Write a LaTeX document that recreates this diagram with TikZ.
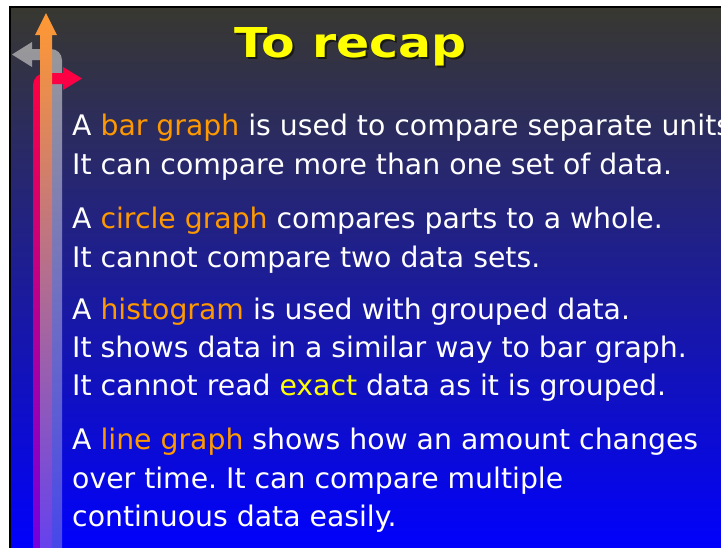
\documentclass[tikz,border=0pt]{standalone}
\usepackage{fontspec}
\setmainfont{DejaVu Sans}
\usepackage{graphicx}
\frenchspacing

% slide background
\definecolor{bgtop}{RGB}{56,56,48}
\definecolor{bgmid}{RGB}{40,40,152}
\definecolor{bgbot}{RGB}{0,0,255}
% decorative arrows
\definecolor{ortop}{RGB}{255,153,51}
\definecolor{ormid}{RGB}{200,112,144}
\definecolor{orbot}{RGB}{100,64,240}
\definecolor{rdtop}{RGB}{255,0,64}
\definecolor{rdmid}{RGB}{204,0,170}
\definecolor{rdbot}{RGB}{112,0,224}
\definecolor{grtop}{RGB}{153,153,153}
\definecolor{grmid}{RGB}{118,118,184}
\definecolor{grbot}{RGB}{70,70,235}
% text
\definecolor{kworange}{RGB}{255,153,0}
\definecolor{kwyellow}{RGB}{255,255,0}
\definecolor{shadowc}{RGB}{25,25,20}

\newcommand\kw[1]{\textcolor{kworange}{#1}}
\newcommand\kwy[1]{\textcolor{kwyellow}{#1}}
\newcommand\titleword{\resizebox{232pt}{30pt}{\bfseries To recap}}

\begin{document}
\begin{tikzpicture}[x=1pt,y=-1pt,
  line/.style={anchor=base west, inner sep=0pt, text=white,
               font=\fontsize{28.3}{34}\selectfont},
  titletext/.style={anchor=base, inner sep=0pt}]
\useasboundingbox (0,0) rectangle (721,547);
\fill[white] (-5,-5) rectangle (730,555);
\begin{scope}
\clip (10,7) rectangle (730,555);
\shade[top color=bgtop, middle color=bgmid, bottom color=bgbot]
  (10,7) rectangle (730,555);

% grey arrow turning left
\shade[top color=grtop, middle color=grmid, bottom color=grbot]
  (52,555) -- (52,60) -- (32,60) -- (32,67) -- (12,54.5) -- (32,42) -- (32,49)
  -- (51,49) .. controls (57.1,49) and (62,53.9) .. (62,60) -- (62,555) -- cycle;
% red arrow turning right
\shade[top color=rdtop, middle color=rdmid, bottom color=rdbot]
  (33,555) -- (33,85) .. controls (33,78.4) and (38.4,73) .. (45,73)
  -- (63,73) -- (63,67) -- (82,78.5) -- (63,90) -- (63,84) -- (42,84)
  -- (42,555) -- cycle;
% orange arrow straight up
\shade[top color=ortop, middle color=ormid, bottom color=orbot]
  (40,555) -- (40,35) -- (35,35) -- (46,13) -- (57,35) -- (52,35)
  -- (52,555) -- cycle;

% title with drop shadow
\node[titletext] (title) at (351,57)
  {\rlap{\hspace{2pt}\raisebox{-2pt}{\textcolor{shadowc}{\titleword}}}%
   \textcolor{kwyellow}{\titleword}};

% body text
\node[line] (l1) at (72,135) {A \kw{bar graph} is used to compare separate units};
\node[line] (l2) at (72,174) {It can compare more than one set of data.};
\node[line] (l3) at (72,228) {A \kw{circle graph} compares parts to a whole.};
\node[line] (l4) at (72,267) {It cannot compare two data sets.};
\node[line] (l5) at (72,319) {A \kw{histogram} is used with grouped data.};
\node[line] (l6) at (72,357) {It shows data in a similar way to bar graph.};
\node[line] (l7) at (72,395) {It cannot read \kwy{exact} data as it is grouped.};
\node[line] (l8) at (72,449) {A \kw{line graph} shows how an amount changes};
\node[line] (l9) at (72,488) {over time. It can compare multiple};
\node[line] (l10) at (72,526) {continuous data easily.};
\end{scope}
% slide frame edge
\draw[black, line width=2pt] (10,560) -- (10,7) -- (730,7);
\end{tikzpicture}
\end{document}
